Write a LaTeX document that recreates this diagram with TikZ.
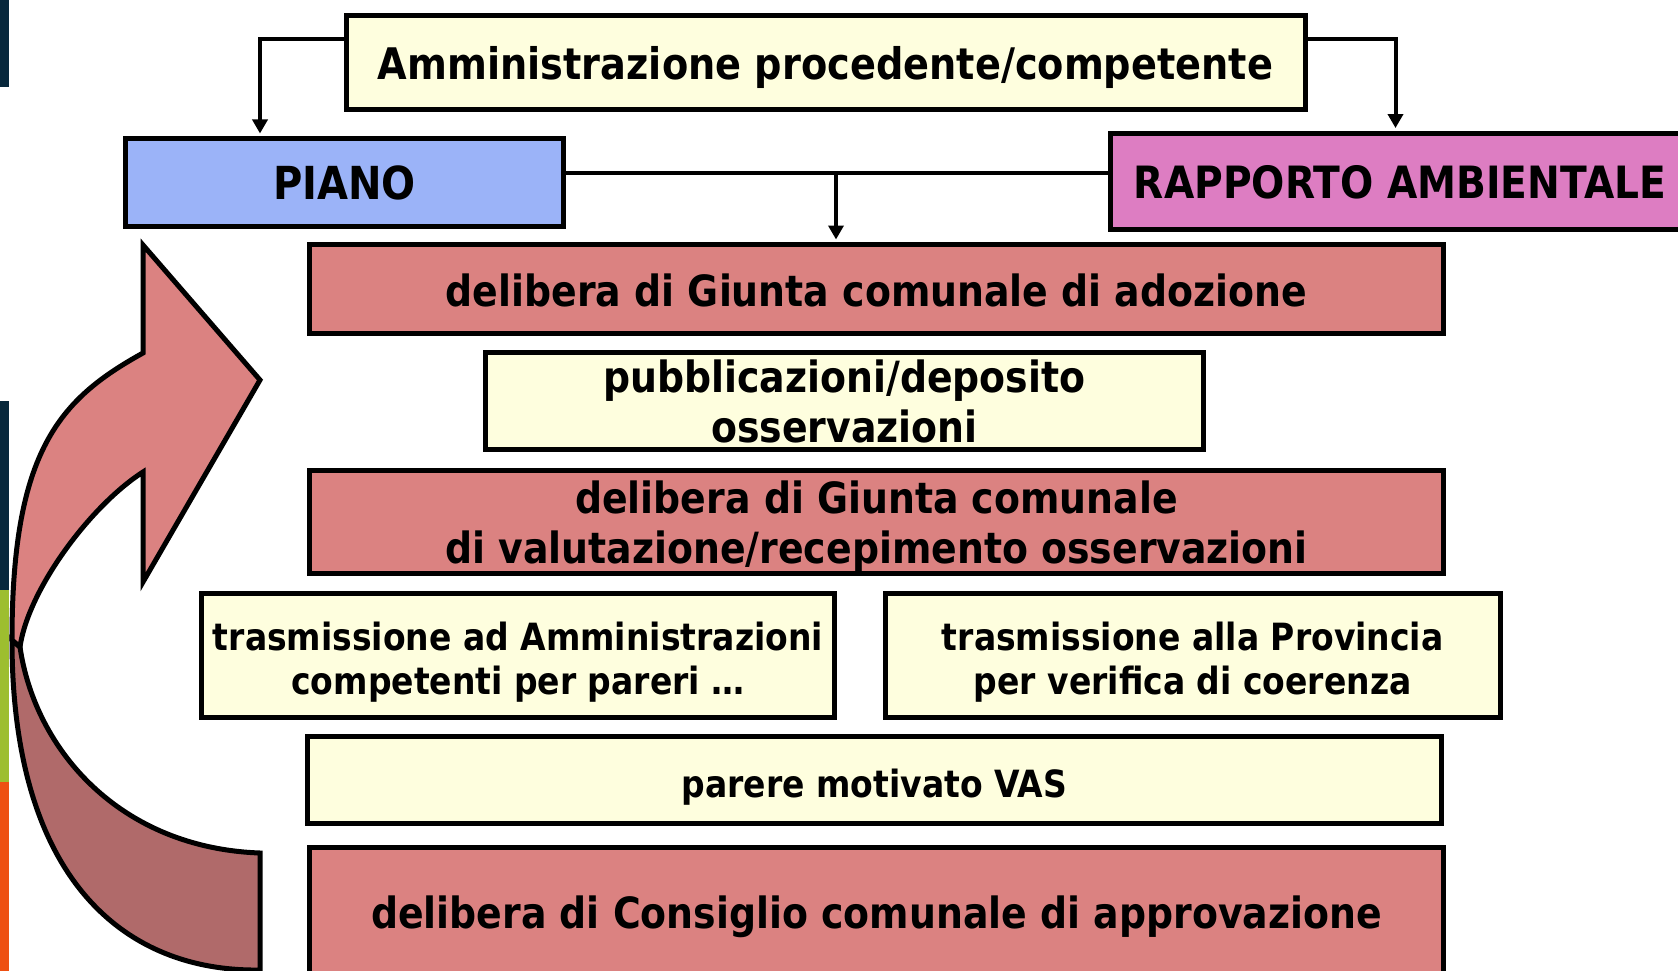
\documentclass[tikz,border=0pt]{standalone}
\usepackage{fontspec}
\setmainfont{DejaVu Sans}[FakeStretch=0.88]
\usetikzlibrary{arrows.meta}
\definecolor{lyel}{RGB}{254,254,222}
\definecolor{pblue}{RGB}{155,179,248}
\definecolor{rpink}{RGB}{221,125,194}
\definecolor{dred}{RGB}{219,130,129}
\definecolor{darr}{RGB}{176,106,106}
\definecolor{snavy}{RGB}{8,40,60}
\definecolor{sgreen}{RGB}{157,190,47}
\definecolor{sorange}{RGB}{238,80,18}
\begin{document}
\begin{tikzpicture}[x=1pt,y=-1pt,
 box/.style={draw=black, line width=5pt, rectangle, inner sep=0pt, align=center,
   font=\bfseries\fontsize{43}{50}\selectfont, text height=34pt, text depth=0pt},
 two/.style={text height=84pt},
 small/.style={font=\bfseries\fontsize{37.5}{44}\selectfont},
 conn/.style={line width=4pt, -{Triangle[width=15pt,length=14pt]}},
 link/.style={line width=4pt},
 band/.style={draw=black, line width=5pt, line join=miter}]
\useasboundingbox (0,0) rectangle (1678,971);
\clip (0,0) rectangle (1678,971);
\fill[white] (0,0) rectangle (1678,971);
% left strip
\fill[snavy] (0,0) rectangle (9,87);
\fill[snavy] (0,401) rectangle (9,590);
\fill[sgreen] (0,590) rectangle (9,782);
\fill[sorange] (0,782) rectangle (9,971);
% curved arrow
\filldraw[band, fill=darr] (12,640) .. controls (12,880) and (125,972) .. (260,970)
  -- (260,853) .. controls (120,848) and (35,750) .. (20,647) -- cycle;
\filldraw[band, fill=dred] (143,353) .. controls (60,399) and (12,450) .. (12,640)
  -- (20,647) .. controls (28,590) and (90,506) .. (143,472)
  -- (143,582) -- (260,380) -- (143,245) -- cycle;
% boxes
\node[box, fill=lyel, minimum width=959pt, minimum height=94.7pt, font=\bfseries\fontsize{43.5}{50}\selectfont] (amm) at (825.5,62.6) {Amministrazione procedente/competente};
\node[box, fill=pblue, minimum width=438pt, minimum height=88pt, font=\bfseries\fontsize{45.5}{50}\selectfont] (piano) at (344.5,182.5) {PIANO};
\node[box, fill=rpink, minimum width=580pt, minimum height=96.7pt, font=\bfseries\fontsize{44.5}{50}\selectfont] (rapp) at (1400,181.4) {RAPPORTO AMBIENTALE};
\node[box, fill=dred, minimum width=1134pt, minimum height=89pt] (del1) at (876.5,289) {delibera di Giunta comunale di adozione};
\node[box, two, fill=lyel, minimum width=718.5pt, minimum height=96.5pt] (pub) at (844.25,400.75) {pubblicazioni/deposito\\osservazioni};
\node[box, two, fill=dred, minimum width=1134pt, minimum height=103.3pt] (del2) at (876.5,521.65) {delibera di Giunta comunale\\di valutazione/recepimento osservazioni};
\node[box, small, text height=78pt, fill=lyel, minimum width=633pt, minimum height=124.7pt] (tr1) at (518,655.35) {trasmissione ad Amministrazioni\\competenti per pareri \dots};
\node[box, small, text height=78pt, fill=lyel, minimum width=614.5pt, minimum height=124.7pt] (tr2) at (1192.75,655.35) {trasmissione alla Provincia\\per verifica di coerenza};
\node[box, small, fill=lyel, minimum width=1133.5pt, minimum height=87.2pt] (par) at (874.25,780.1) {parere motivato VAS};
\node[box, fill=dred, minimum width=1134pt, minimum height=128pt] (del3) at (876.5,911) {delibera di Consiglio comunale di approvazione};
% connectors
\coordinate (la) at (260,0);
\coordinate (ra) at (1395.5,0);
\coordinate (mj) at (836,173.4);
\draw[conn] ([yshift=23.6pt]amm.west) -| ([yshift=2.5pt]la |- piano.north);
\draw[conn] ([yshift=23.6pt]amm.east) -| ([yshift=2.5pt]ra |- rapp.north);
\draw[link] (piano.east |- mj) -- (rapp.west |- mj);
\draw[conn] (mj) -- ([yshift=2.5pt]mj |- del1.north);
\end{tikzpicture}
\end{document}
